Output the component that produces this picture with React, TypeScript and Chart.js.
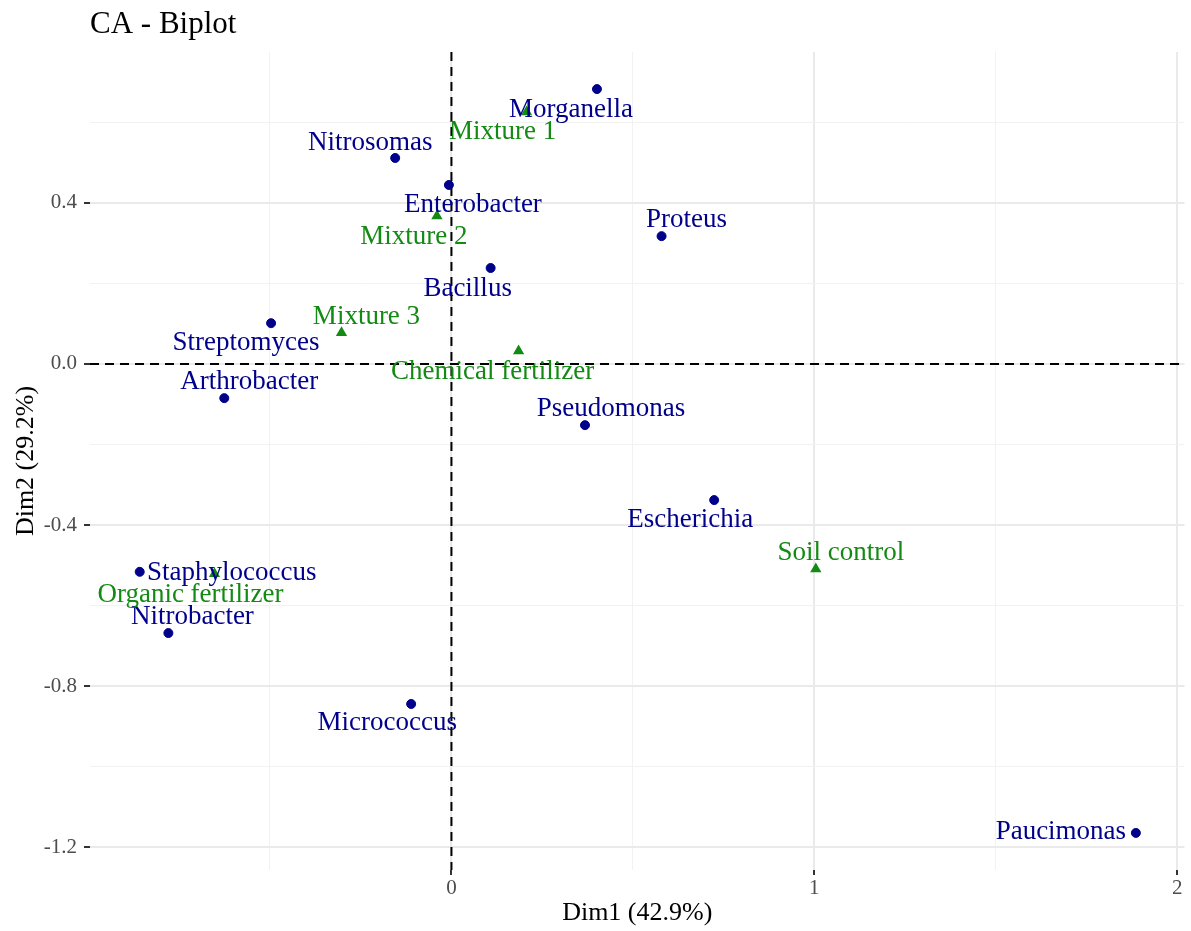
import React, { useEffect, useRef } from "react";
import { Chart, registerables } from "chart.js";

Chart.register(...registerables);

// Row points (bacteria)
const rowNames = [
  "Morganella", "Nitrosomas", "Enterobacter", "Proteus", "Bacillus", "Streptomyces",
  "Arthrobacter", "Pseudomonas", "Escherichia", "Staphylococcus", "Nitrobacter",
  "Micrococcus", "Paucimonas",
];
const rowDim1 = [0.401, -0.155, -0.007, 0.579, 0.108, -0.497, -0.626, 0.368, 0.724, -0.859, -0.780, -0.111, 1.886];
const rowDim2 = [0.682, 0.511, 0.444, 0.317, 0.238, 0.101, -0.085, -0.152, -0.338, -0.516, -0.668, -0.844, -1.164];

// Column points (treatments)
const colNames = ["Mixture 1", "Mixture 2", "Mixture 3", "Chemical fertilizer", "Organic fertilizer", "Soil control"];
const colDim1 = [0.207, -0.040, -0.303, 0.185, -0.653, 1.004];
const colDim2 = [0.625, 0.367, 0.077, 0.032, -0.521, -0.509];

// Label offsets in pixels (repelled text placement)
const rowLabelOffsets: [number, number][] = [
  [-26, 21], [-25, -15], [24, 20], [25, -16], [-23, 21], [-25, 20],
  [25, -16], [26, -16], [-24, 20], [92, 1], [24, -16], [-24, 19], [-75, -1],
];
const colLabelOffsets: [number, number][] = [
  [-24, 20], [-23, 21], [25, -16], [-26, 21], [-24, 21], [25, -16],
];

const xTickLabels = ["0", "1", "2"];
const yTickLabels = ["-1.2", "-0.8", "-0.4", "0.0", "0.4"];

const chartTitle = "CA - Biplot";
const xTitle = "Dim1 (42.9%)";
const yTitle = "Dim2 (29.2%)";

const ROW_COLOR = "#00008B";
const COL_COLOR = "#138A13";
const FONT = '"Liberation Serif", "Times New Roman", serif';

const isMajorX = (v: number) => Math.abs(v - Math.round(v)) < 1e-6;
const isMajorY = (v: number) => Math.abs(v / 0.4 - Math.round(v / 0.4)) < 1e-6;

export default function App() {
  const ref = useRef<HTMLCanvasElement | null>(null);

  useEffect(() => {
    if (!ref.current) return;

    const labelPlugin = {
      id: "biplotExtras",
      beforeDatasetsDraw(chart: any) {
        const { ctx, chartArea, scales } = chart;
        const x0 = scales.x.getPixelForValue(0);
        const y0 = scales.y.getPixelForValue(0);
        ctx.save();
        ctx.strokeStyle = "#000";
        ctx.lineWidth = 2;
        ctx.setLineDash([9, 6]);
        ctx.beginPath();
        ctx.moveTo(chartArea.left, y0);
        ctx.lineTo(chartArea.right, y0);
        ctx.stroke();
        ctx.beginPath();
        ctx.moveTo(x0, chartArea.top);
        ctx.lineTo(x0, chartArea.bottom);
        ctx.stroke();
        ctx.restore();
      },
      afterDatasetsDraw(chart: any) {
        const { ctx } = chart;
        ctx.save();
        ctx.font = `27px ${FONT}`;
        ctx.textAlign = "center";
        ctx.textBaseline = "middle";
        const groups = [
          { idx: 0, names: rowNames, offs: rowLabelOffsets, color: ROW_COLOR },
          { idx: 1, names: colNames, offs: colLabelOffsets, color: COL_COLOR },
        ];
        groups.forEach((g) => {
          const meta = chart.getDatasetMeta(g.idx);
          ctx.fillStyle = g.color;
          meta.data.forEach((pt: any, i: number) => {
            const [dx, dy] = g.offs[i];
            ctx.fillText(g.names[i], pt.x + dx, pt.y + dy);
          });
        });
        ctx.restore();
      },
      afterDraw(chart: any) {
        const { ctx, chartArea, scales } = chart;
        ctx.save();
        ctx.font = `31px ${FONT}`;
        ctx.fillStyle = "#000";
        ctx.textAlign = "left";
        ctx.textBaseline = "alphabetic";
        ctx.fillText(chartTitle, 90, 33);
        // x tick labels
        ctx.font = `21px ${FONT}`;
        ctx.fillStyle = "#4D4D4D";
        ctx.textAlign = "center";
        ctx.textBaseline = "top";
        xTickLabels.forEach((lbl) => {
          const px = scales.x.getPixelForValue(Number(lbl));
          ctx.fillText(lbl, px, chartArea.bottom + 8);
        });
        ctx.restore();
      },
    };

    const chart = new Chart(ref.current, {
      type: "scatter",
      data: {
        datasets: [
          {
            label: "rows",
            data: rowDim1.map((x, i) => ({ x, y: rowDim2[i] })),
            pointStyle: "circle",
            pointRadius: 4.5,
            pointBorderWidth: 1,
            backgroundColor: ROW_COLOR,
            borderColor: ROW_COLOR,
          },
          {
            label: "cols",
            data: colDim1.map((x, i) => ({ x, y: colDim2[i] })),
            pointStyle: "triangle",
            pointRadius: 6.5,
            pointBorderWidth: 0,
            backgroundColor: COL_COLOR,
            borderColor: COL_COLOR,
          },
        ],
      },
      options: {
        animation: false,
        responsive: false,
        maintainAspectRatio: false,
        devicePixelRatio: 1,
        layout: { padding: { top: 52, right: 0, bottom: 0, left: 0 } },
        plugins: {
          legend: { display: false },
          tooltip: { enabled: false },
          title: { display: false },
        },
        scales: {
          x: {
            type: "linear",
            min: -0.996,
            max: 2.02,
            afterFit: (s: any) => {
              s.height = 61;
            },
            border: { display: false },
            grid: {
              color: (c: any) => (c.tick && isMajorX(c.tick.value) ? "#EAEAEA" : "#F2F2F2"),
              lineWidth: (c: any) => (c.tick && isMajorX(c.tick.value) ? 2 : 1),
              drawTicks: true,
              tickLength: 5,
              tickWidth: 2,
              tickColor: (c: any) => (c.tick && isMajorX(c.tick.value) ? "#333" : "rgba(0,0,0,0)"),
            },
            ticks: {
              display: false,
              stepSize: 0.5,
              includeBounds: false,
              autoSkip: false,
              maxRotation: 0,
            },
            title: {
              display: true,
              text: xTitle,
              color: "#000",
              font: { family: FONT, size: 26 },
              padding: { top: 0, bottom: 2 },
            },
          },
          y: {
            type: "linear",
            min: -1.256,
            max: 0.774,
            afterFit: (s: any) => {
              s.width = 90;
            },
            border: { display: false },
            grid: {
              color: (c: any) => (c.tick && isMajorY(c.tick.value) ? "#EAEAEA" : "#F2F2F2"),
              lineWidth: (c: any) => (c.tick && isMajorY(c.tick.value) ? 2 : 1),
              drawTicks: true,
              tickLength: 6,
              tickWidth: 2,
              tickColor: (c: any) => (c.tick && isMajorY(c.tick.value) ? "#333" : "rgba(0,0,0,0)"),
            },
            ticks: {
              stepSize: 0.2,
              includeBounds: false,
              autoSkip: false,
              padding: 7,
              color: "#4D4D4D",
              font: { family: FONT, size: 21 },
              callback: (v: any) => {
                const n = Number(v);
                if (!isMajorY(n)) return "";
                const lbl = (Math.abs(n) < 1e-9 ? 0 : n).toFixed(1);
                return yTickLabels.includes(lbl) ? lbl : "";
              },
            },
            title: {
              display: true,
              text: yTitle,
              color: "#000",
              font: { family: FONT, size: 26 },
              padding: { top: 11, bottom: 0 },
            },
          },
        },
      },
      plugins: [labelPlugin],
    } as any);

    return () => chart.destroy();
  }, []);

  return (
    <div style={{ position: "absolute", left: 0, top: 0, width: 1191, height: 931, background: "#fff", overflow: "hidden" }}>
      <canvas ref={ref} width={1191} height={931} style={{ display: "block", width: 1191, height: 931 }} />
    </div>
  );
}
